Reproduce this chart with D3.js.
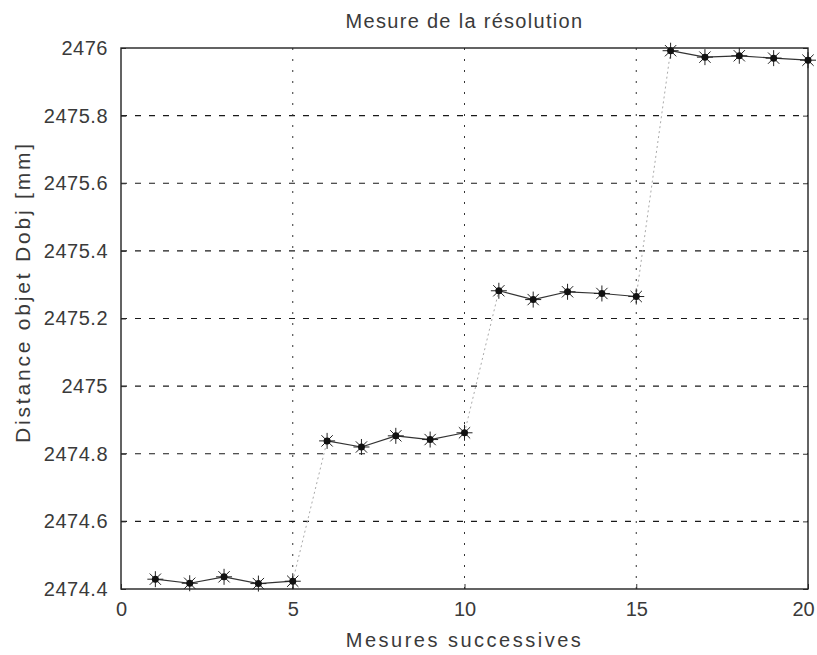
<!DOCTYPE html>
<html>
<head>
<meta charset="utf-8">
<script src="https://cdn.jsdelivr.net/npm/d3@7"></script>
<style>
  body { margin: 0; background: #fff; }
  svg text { font-family: "Liberation Sans", Arial, sans-serif; fill: #3a3a3a; }
</style>
</head>
<body>
<div id="chart"></div>
<script>
// data
const mesures = d3.range(1, 21);
const distances = [
  2474.429, 2474.417, 2474.436, 2474.416, 2474.423,
  2474.838, 2474.820, 2474.853, 2474.842, 2474.862,
  2475.282, 2475.256, 2475.279, 2475.274, 2475.265,
  2475.992, 2475.973, 2475.977, 2475.970, 2475.964
];
const xTicks = [0, 5, 10, 15, 20];
const yTicks = [2474.4, 2474.6, 2474.8, 2475, 2475.2, 2475.4, 2475.6, 2475.8, 2476];

const W = 817, H = 655;
const M = { top: 48, right: 9, bottom: 66, left: 121 };
const iw = W - M.left - M.right, ih = H - M.top - M.bottom;

const svg = d3.select('#chart').append('svg')
  .attr('width', W).attr('height', H);

const g = svg.append('g').attr('transform', `translate(${M.left},${M.top})`);

const x = d3.scaleLinear().domain([0, 20]).range([0, iw]);
const y = d3.scaleLinear().domain([2474.4, 2476]).range([ih, 0]);

// grid
g.append('g').selectAll('line').data(yTicks.slice(1, -1)).enter().append('line')
  .attr('x1', 0).attr('x2', iw)
  .attr('y1', d => y(d)).attr('y2', d => y(d))
  .attr('stroke', '#1a1a1a').attr('stroke-width', 1.2)
  .attr('stroke-dasharray', '6,8');

g.append('g').selectAll('line').data(xTicks.slice(1, -1)).enter().append('line')
  .attr('x1', d => x(d)).attr('x2', d => x(d))
  .attr('y1', 0).attr('y2', ih)
  .attr('stroke', '#333').attr('stroke-width', 1)
  .attr('stroke-dasharray', '2,9');

// axes (ticks inside, like matlab)
const fmt = d => d3.format('.1f')(d).replace(/\.0$/, '');
g.append('g')
  .call(d3.axisLeft(y).tickValues(yTicks).tickSize(-5).tickPadding(13).tickFormat(fmt))
  .call(a => a.select('.domain').remove())
  .call(a => a.selectAll('text').style('font-size', '20px').style('letter-spacing', '0.5px'))
  .call(a => a.selectAll('line').attr('stroke', '#333'));

g.append('g').attr('transform', `translate(${iw},0)`)
  .call(d3.axisRight(y).tickValues(yTicks).tickSize(-5).tickFormat(''))
  .call(a => a.select('.domain').remove())
  .call(a => a.selectAll('line').attr('stroke', '#333'));

g.append('g').attr('transform', `translate(0,${ih})`)
  .call(d3.axisBottom(x).tickValues(xTicks).tickSize(-5).tickPadding(13))
  .call(a => a.select('.domain').remove())
  .call(a => a.selectAll('text').style('font-size', '20px')
    .attr('dx', d => d === 20 ? -5 : 0))
  .call(a => a.selectAll('line').attr('stroke', '#333'));

g.append('rect')
  .attr('width', iw).attr('height', ih)
  .attr('fill', 'none').attr('stroke', '#222').attr('stroke-width', 1.4);

// line, segment by segment: the big jumps come out faint on the scan
const pts = mesures.map((m, i) => [m, distances[i]]);
for (let i = 1; i < pts.length; i++) {
  const a = pts[i - 1], b = pts[i];
  const jump = Math.abs(b[1] - a[1]) > 0.2;
  g.append('line')
    .attr('x1', x(a[0])).attr('y1', y(a[1]))
    .attr('x2', x(b[0])).attr('y2', y(b[1]))
    .attr('stroke', jump ? '#aaa' : '#333')
    .attr('stroke-width', jump ? 1 : 1.2)
    .attr('stroke-dasharray', jump ? '2,3' : null);
}

// asterisk markers
const star = g.append('g').selectAll('g').data(pts).enter().append('g')
  .attr('transform', d => `translate(${x(d[0])},${y(d[1])})`);
[0, 45, 90, 135].forEach(a => {
  const r = 8, t = a * Math.PI / 180;
  star.append('line')
    .attr('x1', -r * Math.cos(t)).attr('y1', -r * Math.sin(t))
    .attr('x2', r * Math.cos(t)).attr('y2', r * Math.sin(t))
    .attr('stroke', '#222').attr('stroke-width', 1);
});
star.append('circle').attr('r', 3.5).attr('fill', '#111');

// labels
svg.append('text')
  .attr('x', M.left + iw / 2).attr('y', 28)
  .attr('text-anchor', 'middle').style('font-size', '20px').style('letter-spacing', '1.3px')
  .text('Mesure de la résolution');

svg.append('text')
  .attr('x', M.left + iw / 2).attr('y', 647)
  .attr('text-anchor', 'middle').style('font-size', '20px').style('letter-spacing', '2.5px')
  .text('Mesures successives');

svg.append('text')
  .attr('transform', 'translate(30,292) rotate(-90)')
  .attr('text-anchor', 'middle').style('font-size', '21px').style('letter-spacing', '2.8px')
  .text('Distance objet Dobj [mm]');
</script>
</body>
</html>
